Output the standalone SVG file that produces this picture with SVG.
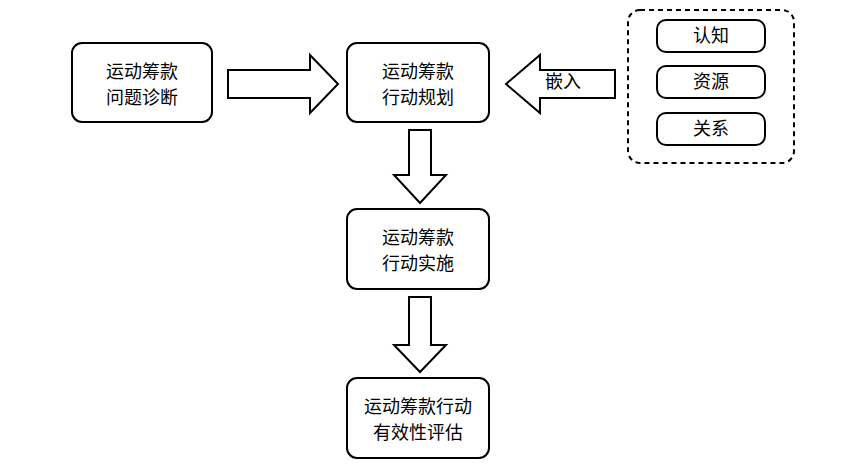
<svg xmlns="http://www.w3.org/2000/svg" width="864" height="468" viewBox="0 0 864 468">
<style>
.box{fill:#fff;stroke:#000;stroke-width:2}
.arr{fill:#fff;stroke:#000;stroke-width:2;stroke-linejoin:miter}
text{font-family:"Noto Sans CJK SC",sans-serif;font-size:18px;fill:#000;text-anchor:middle}
</style>
<rect width="864" height="468" fill="#fff"/>
<g id="connectors">
<polygon class="arr" points="228,70 310,70 310,55 338,84 310,113 310,98 228,98"/>
<polygon class="arr" points="615,70 540,70 540,55 506,84 540,113 540,98 615,98"/>
<polygon class="arr" points="409,130 431,130 431,175 446,175 420,203 394,175 409,175"/>
<polygon class="arr" points="409,297 431,297 431,345 446,345 420,372 394,345 409,345"/>
<text x="563" y="88">嵌入</text>
</g>
<g id="n1"><rect class="box" x="72" y="43" width="140" height="79" rx="10"/><text x="142" y="78">运动筹款</text><text x="142" y="104">问题诊断</text></g>
<g id="n2"><rect class="box" x="347" y="43" width="142" height="79" rx="10"/><text x="418" y="78">运动筹款</text><text x="418" y="104">行动规划</text></g>
<g id="n3"><rect class="box" x="347" y="209" width="142" height="80" rx="10"/><text x="418" y="244">运动筹款</text><text x="418" y="270">行动实施</text></g>
<g id="n4"><rect class="box" x="347" y="378" width="142" height="80" rx="10"/><text x="418" y="413">运动筹款行动</text><text x="418" y="439">有效性评估</text></g>
<g id="group"><rect x="628" y="10" width="166" height="153" rx="12" fill="none" stroke="#000" stroke-width="2" stroke-dasharray="5,4"/>
<g id="p1"><rect class="box" x="657" y="20" width="108" height="32" rx="9"/><text x="711" y="42">认知</text></g>
<g id="p2"><rect class="box" x="657" y="66" width="108" height="32" rx="9"/><text x="711" y="88">资源</text></g>
<g id="p3"><rect class="box" x="657" y="113" width="108" height="32" rx="9"/><text x="711" y="135">关系</text></g>
</g>
</svg>
